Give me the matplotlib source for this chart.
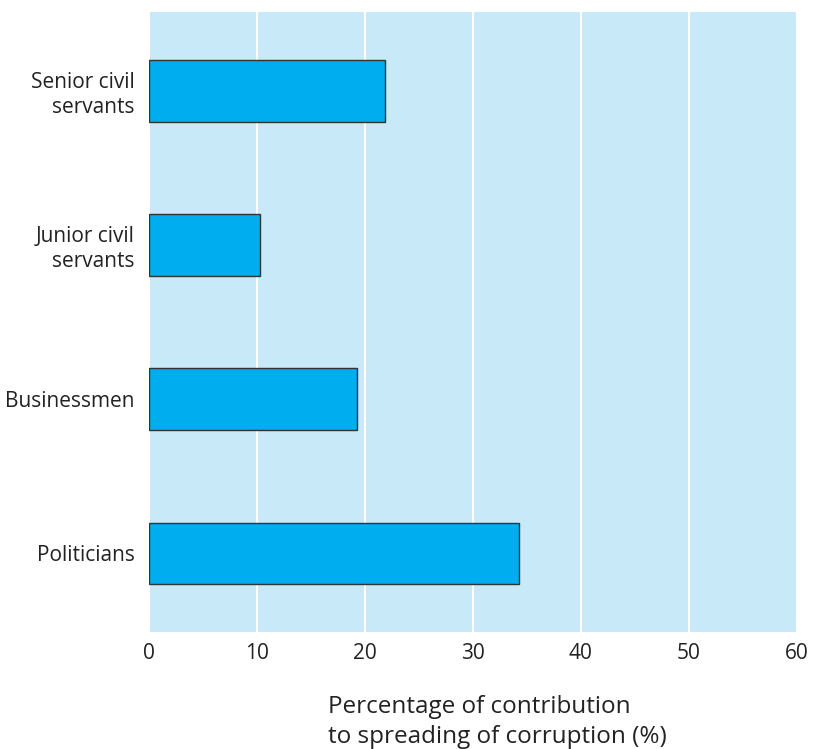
import matplotlib
matplotlib.use("Agg")
import matplotlib.pyplot as plt

categories = ["Politicians", "Businessmen", "Junior civil\nservants", "Senior civil\nservants"]
values = [34.3, 19.3, 10.3, 21.9]
xticks = [0, 10, 20, 30, 40, 50, 60]

plt.rcParams['font.family'] = ['Open Sans', 'DejaVu Sans']

fig = plt.figure(figsize=(8.18, 7.49), dpi=100)
ax = fig.add_axes([0.182, 0.156, 0.792, 0.828])
ax.set_facecolor("#C7E9F8")

ax.barh(range(len(categories)), values, height=0.4, color="#00AEEF",
        edgecolor="#333333", linewidth=1.0, zorder=3)

ax.set_xlim(0, 60)
ax.set_ylim(-0.51, 3.51)
ax.set_xticks(xticks)
ax.set_xticklabels([str(t) for t in xticks])
ax.set_yticks(range(len(categories)))
ax.set_yticklabels(categories, ha="right", multialignment="right", linespacing=1.25)
ax.tick_params(length=0, labelsize=15, colors="#222222")
ax.tick_params(axis="y", pad=10)
ax.tick_params(axis="x", pad=8)
ax.grid(axis="x", color="white", linewidth=1.5, zorder=1)
ax.set_axisbelow(True)
for s in ax.spines.values():
    s.set_visible(False)

fig.text(328 / 818, 1 - 722 / 749, "Percentage of contribution\nto spreading of corruption (%)",
         ha="left", va="center", fontsize=17.5, color="#222222", linespacing=1.35)

fig.savefig("out.png", dpi=100)
